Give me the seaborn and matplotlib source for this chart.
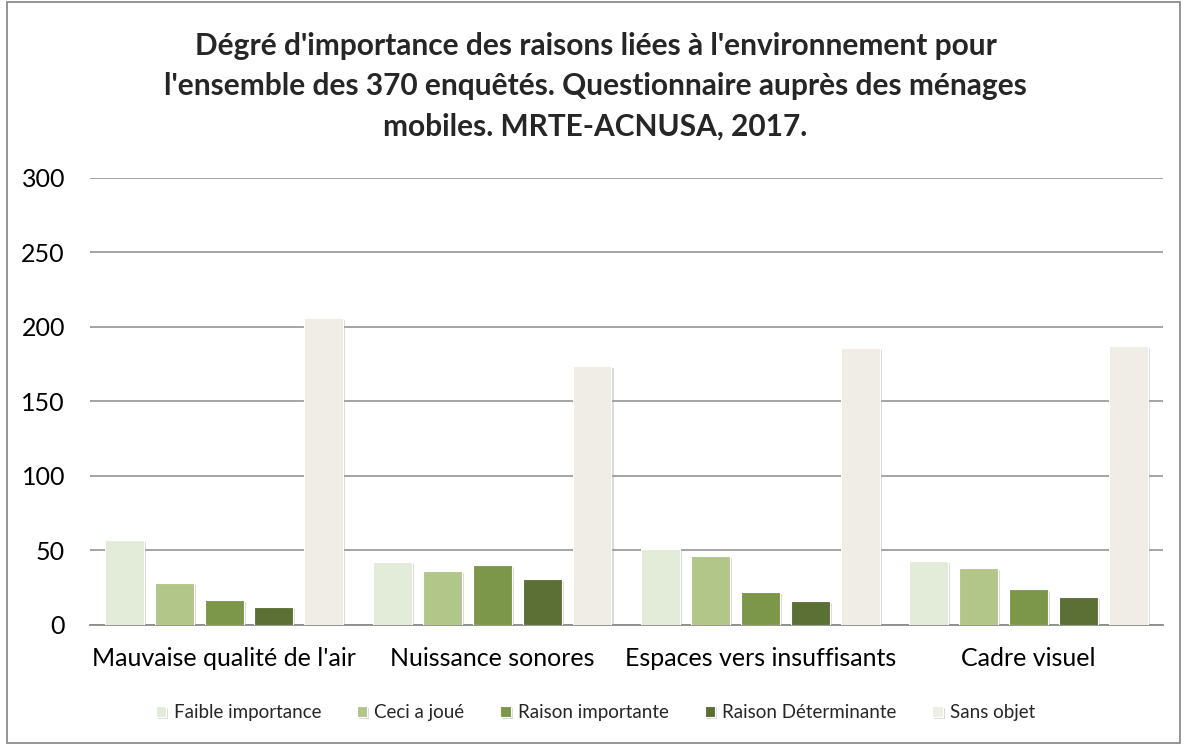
import matplotlib
matplotlib.use("Agg")
import matplotlib.pyplot as plt
import matplotlib.patheffects as pe
from matplotlib.patches import Rectangle
import pandas as pd
import seaborn as sns

categories = ["Mauvaise qualité de l'air", "Nuissance sonores",
              "Espaces vers insuffisants", "Cadre visuel"]
series = ["Faible importance", "Ceci a joué", "Raison importante",
          "Raison Déterminante", "Sans objet"]
faible = [57, 42, 51, 43]
ceci = [28, 36, 46, 38]
importante = [17, 40, 22, 24]
determinante = [12, 31, 16, 19]
sans_objet = [206, 174, 186, 187]
yticks = [0, 50, 100, 150, 200, 250, 300]

palette = ["#E3EBD9", "#B2C68A", "#7D974A", "#5C7035", "#F0ECE6"]

rows = []
for name, vals in zip(series, [faible, ceci, importante, determinante, sans_objet]):
    for cat, v in zip(categories, vals):
        rows.append({"cat": cat, "serie": name, "val": v})
df = pd.DataFrame(rows)

sns.set_theme(style="white")
plt.rcParams["font.family"] = ["Lato", "DejaVu Sans"]

fig = plt.figure(figsize=(11.84, 7.44), dpi=100)
ax = fig.add_axes([0.076, 0.16, 0.906, 0.601])

sns.barplot(data=df, x="cat", y="val", hue="serie", order=categories,
            hue_order=series, palette=palette, width=0.93, gap=0.22,
            edgecolor="white", linewidth=0.8, saturation=1, ax=ax,
            legend=True)

shadow = [pe.SimplePatchShadow(offset=(1.5, -1.5), shadow_rgbFace="#9a9a9a",
                               alpha=0.35), pe.Normal()]
for p in ax.patches:
    p.set_path_effects(shadow)
    p.set_zorder(3)

ax.set_ylim(0, 300)
ax.set_yticks(yticks)
ax.set_xlim(-0.5, 3.5)
ax.yaxis.grid(True, color="#8c8c8c", linewidth=1.1)
ax.set_axisbelow(True)
for s in ["top", "right", "left"]:
    ax.spines[s].set_visible(False)
ax.spines["bottom"].set_color("#8c8c8c")
ax.spines["bottom"].set_linewidth(1.3)
ax.tick_params(axis="both", length=0, labelsize=18, colors="black")
ax.tick_params(axis="x", pad=16)
ax.tick_params(axis="y", pad=18)
ax.set_xlabel("")
ax.set_ylabel("")

handles, labels = ax.get_legend_handles_labels()
ax.legend(handles, labels, loc="center", bbox_to_anchor=(0.503, 0.042),
          bbox_transform=fig.transFigure, ncol=5, frameon=False,
          fontsize=13.5, handlelength=0.55, handleheight=0.55,
          handletextpad=0.4, columnspacing=1.9)

fig.text(0.503, 0.884,
         "Dégré d'importance des raisons liées à l'environnement pour\n"
         "l'ensemble des 370 enquêtés. Questionnaire auprès des ménages\n"
         "mobiles. MRTE-ACNUSA, 2017.",
         ha="center", va="center", fontsize=21.5, fontweight="bold",
         linespacing=1.55)

fig.patches.append(Rectangle((0.006, 0.002), 0.991, 0.995,
                             transform=fig.transFigure, fill=False,
                             edgecolor="#8c8c8c", linewidth=1.3))

fig.savefig("out.png", dpi=100)
